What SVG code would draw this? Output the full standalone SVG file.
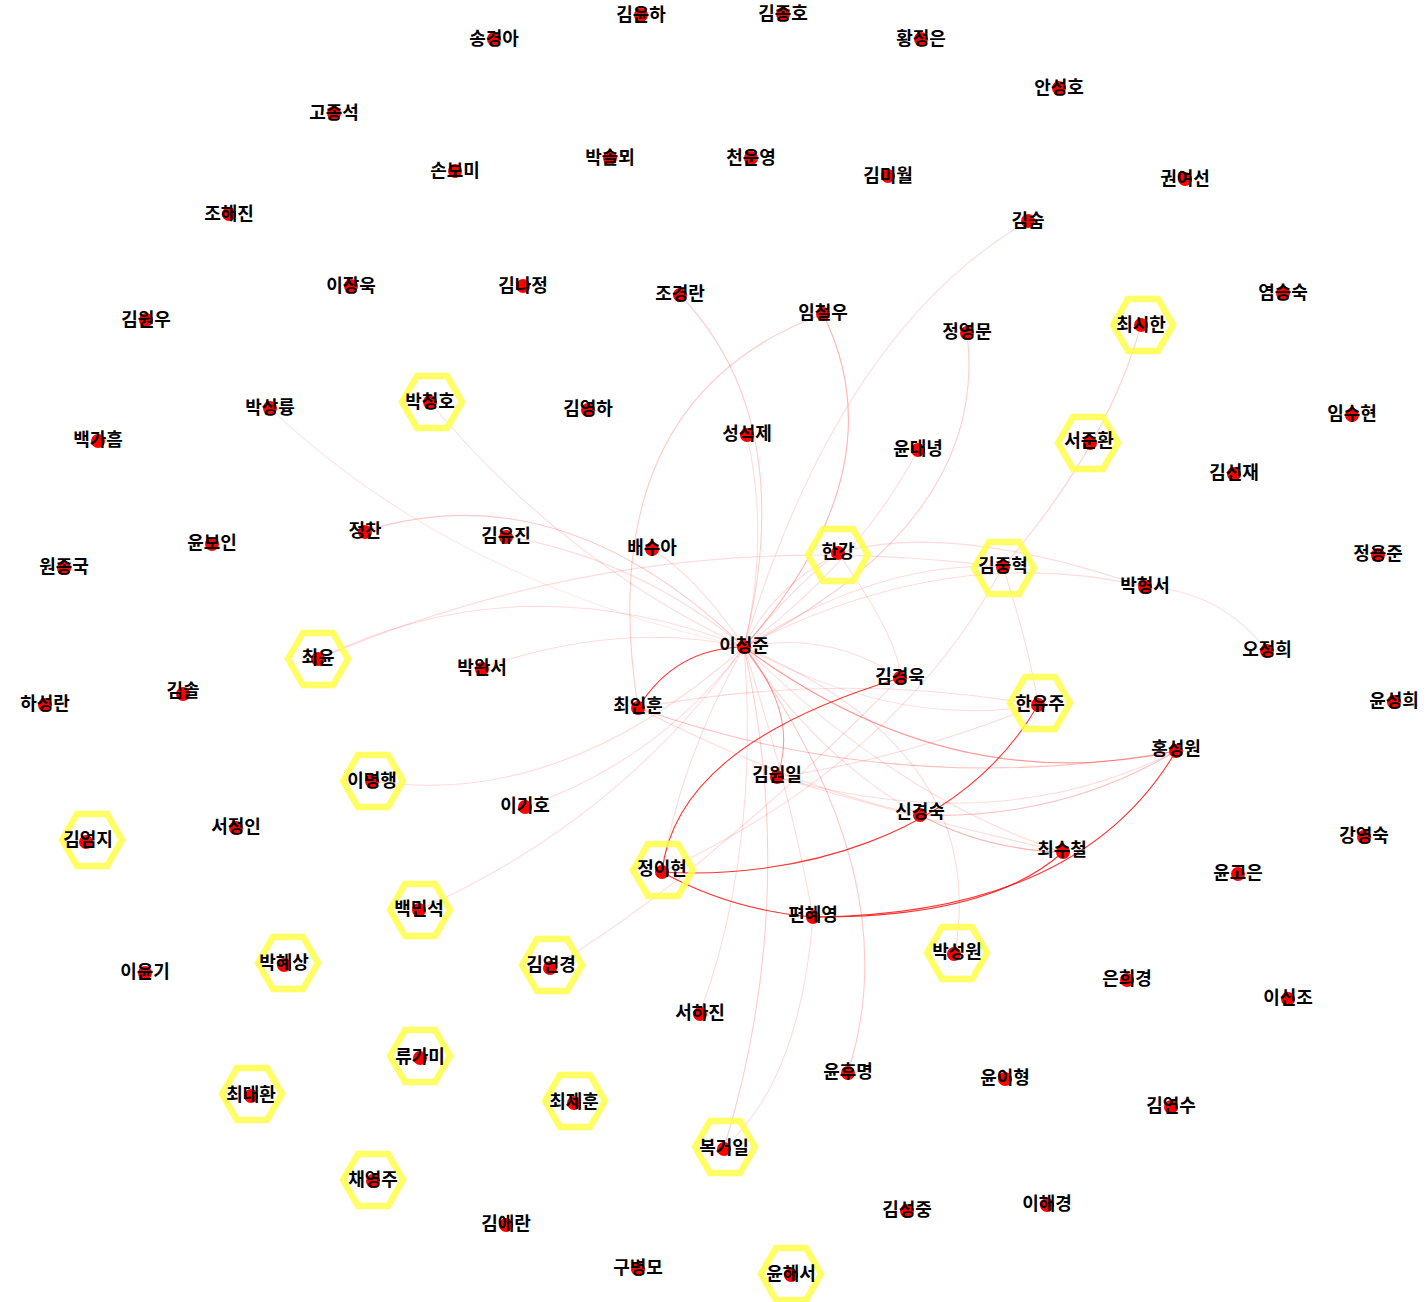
<svg xmlns="http://www.w3.org/2000/svg" xmlns:xlink="http://www.w3.org/1999/xlink" width="1427" height="1302" viewBox="0 0 1427 1302">
<style>
.e{fill:none;stroke:#ff0000;stroke-width:1.1}
.s{stroke-opacity:.8}
.m{stroke-opacity:.4}
.f{stroke-opacity:.14}
.hx{fill:none;stroke:#ffff4a;stroke-width:6.5;stroke-opacity:.85}
.d{fill:#ff0000}
text{font-family:"Noto Sans CJK KR","Noto Sans",sans-serif;font-weight:bold;font-size:18px;fill:#000;text-anchor:middle}
</style>
<defs>
<path id="hex" d="M-30,0 L-15,-26 L15,-26 L30,0 L15,26 L-15,26 Z"/>
</defs>
<rect width="1427" height="1302" fill="#fff"/>
<g id="edges">
<path class="e f" d="M744,647 Q820,760 920,815"/>
<path class="e f" d="M744,647 Q900,800 1063,852"/>
<path class="e f" d="M744,647 Q900,730 1038,705"/>
<path class="e f" d="M744,647 Q830,630 900,678"/>
<path class="e f" d="M744,647 Q680,760 662,872"/>
<path class="e f" d="M744,647 Q790,790 813,917"/>
<path class="e f" d="M744,647 Q990,750 955,953"/>
<path class="e f" d="M744,647 Q880,560 1003,567"/>
<path class="e f" d="M744,647 Q950,540 1145,587"/>
<path class="e f" d="M744,647 Q800,580 838,553"/>
<path class="e f" d="M744,647 Q770,590 838,553"/>
<path class="e f" d="M638,708 Q840,670 1038,705"/>
<path class="e f" d="M638,708 Q800,790 920,815"/>
<path class="e m" d="M638,708 Q590,400 823,314" style="stroke-opacity:.2"/>
<path class="e m" d="M680,295 Q800,420 744,647" style="stroke-opacity:.2"/>
<path class="e f" d="M1028,221 Q840,330 744,647"/>
<path class="e m" d="M967,333 Q990,520 744,647" style="stroke-opacity:.2"/>
<path class="e m" d="M1141,325 Q1108,445 1003,567" style="stroke-opacity:.18"/>
<path class="e f" d="M1003,567 Q1030,650 1038,705"/>
<path class="e f" d="M1003,567 Q900,760 662,872"/>
<path class="e f" d="M1145,587 Q1220,590 1267,651"/>
<path class="e f" d="M430,402 Q560,560 744,647"/>
<path class="e f" d="M270,408 Q450,580 744,647" style="stroke-opacity:.1"/>
<path class="e m" d="M365,531 Q560,470 744,647" style="stroke-opacity:.22"/>
<path class="e f" d="M318,659 Q520,560 744,647"/>
<path class="e f" d="M318,659 Q640,520 1003,567"/>
<path class="e f" d="M372,781 Q560,810 744,647"/>
<path class="e f" d="M419,910 Q620,820 744,647"/>
<path class="e f" d="M550,968 Q700,880 900,678"/>
<path class="e f" d="M700,1013 Q760,850 744,647"/>
<path class="e m" d="M724,1148 Q800,900 744,647" style="stroke-opacity:.2"/>
<path class="e f" d="M724,1148 Q800,1080 813,917"/>
<path class="e m" d="M848,1072 Q910,880 744,647" style="stroke-opacity:.22"/>
<path class="e f" d="M506,536 Q640,560 744,647"/>
<path class="e f" d="M652,549 Q700,580 744,647"/>
<path class="e f" d="M747,435 Q770,540 744,647"/>
<path class="e f" d="M918,450 Q860,560 744,647"/>
<path class="e f" d="M482,668 Q620,620 744,647"/>
<path class="e f" d="M525,807 Q660,760 744,647"/>
<path class="e f" d="M777,777 Q920,820 1063,852"/>
<path class="e f" d="M777,777 Q1000,840 1176,751"/>
<path class="e f" d="M838,553 Q900,640 900,678"/>
<path class="e f" d="M838,553 Q950,520 1145,587"/>
<path class="e f" d="M777,777 Q900,760 1038,705"/>
<path class="e m" d="M823,314 Q900,470 744,647" style="stroke-opacity:.3"/>
<path class="e m" d="M920,815 Q985,850 1063,852" style="stroke-opacity:.3"/>
<path class="e m" d="M920,815 Q1060,820 1176,751" style="stroke-opacity:.25"/>
<path class="e m" d="M638,708 Q900,800 1176,751" style="stroke-opacity:.25"/>
<path class="e m" d="M744,647 Q800,715 777,777"/>
<path class="e m" d="M744,647 Q950,800 1176,751"/>
<path class="e s" d="M744,647 Q675,648 638,708"/>
<path class="e s" d="M900,678 Q676,745 662,872"/>
<path class="e s" d="M662,872 C790,880 960,840 1038,705"/>
<path class="e s" d="M662,872 Q730,910 813,917"/>
<path class="e s" d="M813,917 Q990,918 1063,852"/>
<path class="e s" d="M813,917 Q1080,915 1176,751"/>
</g>
<g id="hexes">
<use href="#hex" class="hx" x="1143" y="325"/>
<use href="#hex" class="hx" x="432" y="402"/>
<use href="#hex" class="hx" x="1088" y="443"/>
<use href="#hex" class="hx" x="838" y="555"/>
<use href="#hex" class="hx" x="1004" y="568"/>
<use href="#hex" class="hx" x="318" y="659"/>
<use href="#hex" class="hx" x="1040" y="703"/>
<use href="#hex" class="hx" x="373" y="781"/>
<use href="#hex" class="hx" x="92" y="840"/>
<use href="#hex" class="hx" x="663" y="870"/>
<use href="#hex" class="hx" x="420" y="910"/>
<use href="#hex" class="hx" x="957" y="953"/>
<use href="#hex" class="hx" x="288" y="963"/>
<use href="#hex" class="hx" x="552" y="965"/>
<use href="#hex" class="hx" x="420" y="1056"/>
<use href="#hex" class="hx" x="252" y="1094"/>
<use href="#hex" class="hx" x="575" y="1101"/>
<use href="#hex" class="hx" x="725" y="1147"/>
<use href="#hex" class="hx" x="373" y="1180"/>
<use href="#hex" class="hx" x="791" y="1274"/>
</g>
<g id="nodes">
<g id="n1"><circle class="d" cx="641" cy="15" r="7"/><text x="641" y="21">김윤하</text></g>
<g id="n2"><circle class="d" cx="783" cy="14" r="7"/><text x="783" y="20">김종호</text></g>
<g id="n3"><circle class="d" cx="494" cy="39" r="7"/><text x="494" y="45">송경아</text></g>
<g id="n4"><circle class="d" cx="921" cy="39" r="7"/><text x="921" y="45">황정은</text></g>
<g id="n5"><circle class="d" cx="1059" cy="88" r="7"/><text x="1059" y="94">안성호</text></g>
<g id="n6"><circle class="d" cx="334" cy="113" r="7"/><text x="334" y="119">고종석</text></g>
<g id="n7"><circle class="d" cx="610" cy="158" r="7"/><text x="610" y="164">박솔뫼</text></g>
<g id="n8"><circle class="d" cx="751" cy="158" r="7"/><text x="751" y="164">천운영</text></g>
<g id="n9"><circle class="d" cx="455" cy="171" r="7"/><text x="455" y="177">손보미</text></g>
<g id="n10"><circle class="d" cx="888" cy="176" r="7"/><text x="888" y="182">김미월</text></g>
<g id="n11"><circle class="d" cx="1185" cy="179" r="7"/><text x="1185" y="185">권여선</text></g>
<g id="n12"><circle class="d" cx="229" cy="214" r="7"/><text x="229" y="220">조해진</text></g>
<g id="n13"><circle class="d" cx="1028" cy="221" r="7"/><text x="1028" y="227">김숨</text></g>
<g id="n14"><circle class="d" cx="351" cy="286" r="7"/><text x="351" y="292">이장욱</text></g>
<g id="n15"><circle class="d" cx="523" cy="286" r="7"/><text x="523" y="292">김나정</text></g>
<g id="n16"><circle class="d" cx="680" cy="295" r="7"/><text x="680" y="300">조경란</text></g>
<g id="n17"><circle class="d" cx="1283" cy="293" r="7"/><text x="1283" y="299">염승숙</text></g>
<g id="n18"><circle class="d" cx="823" cy="314" r="7"/><text x="823" y="319">임철우</text></g>
<g id="n19"><circle class="d" cx="146" cy="320" r="7"/><text x="146" y="326">김원우</text></g>
<g id="n20"><circle class="d" cx="1141" cy="325" r="7"/><text x="1141" y="331">최시한</text></g>
<g id="n21"><circle class="d" cx="967" cy="333" r="7"/><text x="967" y="338">정영문</text></g>
<g id="n22"><circle class="d" cx="270" cy="408" r="7"/><text x="270" y="414">박상륭</text></g>
<g id="n23"><circle class="d" cx="430" cy="402" r="7"/><text x="430" y="408">박청호</text></g>
<g id="n24"><circle class="d" cx="588" cy="410" r="7"/><text x="588" y="415">김영하</text></g>
<g id="n25"><circle class="d" cx="1352" cy="415" r="7"/><text x="1352" y="420">임수현</text></g>
<g id="n26"><circle class="d" cx="747" cy="435" r="7"/><text x="747" y="440">성석제</text></g>
<g id="n27"><circle class="d" cx="98" cy="441" r="7"/><text x="98" y="446">백가흠</text></g>
<g id="n28"><circle class="d" cx="1090" cy="443" r="7"/><text x="1089" y="447">서준환</text></g>
<g id="n29"><circle class="d" cx="918" cy="450" r="7"/><text x="918" y="455">윤대녕</text></g>
<g id="n30"><circle class="d" cx="1234" cy="474" r="7"/><text x="1234" y="479">김선재</text></g>
<g id="n31"><circle class="d" cx="365" cy="532" r="7"/><text x="365" y="537">정찬</text></g>
<g id="n32"><circle class="d" cx="506" cy="537" r="7"/><text x="506" y="542">김유진</text></g>
<g id="n33"><circle class="d" cx="212" cy="544" r="7"/><text x="212" y="549">윤보인</text></g>
<g id="n34"><circle class="d" cx="652" cy="549" r="7"/><text x="652" y="554">배수아</text></g>
<g id="n35"><circle class="d" cx="838" cy="553" r="7"/><text x="838" y="558">한강</text></g>
<g id="n36"><circle class="d" cx="1378" cy="555" r="7"/><text x="1378" y="560">정용준</text></g>
<g id="n37"><circle class="d" cx="1003" cy="567" r="7"/><text x="1003" y="572">김중혁</text></g>
<g id="n38"><circle class="d" cx="64" cy="568" r="7"/><text x="64" y="573">원종국</text></g>
<g id="n39"><circle class="d" cx="1145" cy="587" r="7"/><text x="1145" y="592">박형서</text></g>
<g id="n40"><circle class="d" cx="744" cy="647" r="7"/><text x="744" y="652">이청준</text></g>
<g id="n41"><circle class="d" cx="1267" cy="651" r="7"/><text x="1267" y="656">오정희</text></g>
<g id="n42"><circle class="d" cx="318" cy="659" r="7"/><text x="318" y="664">최윤</text></g>
<g id="n43"><circle class="d" cx="482" cy="669" r="7"/><text x="482" y="674">박완서</text></g>
<g id="n44"><circle class="d" cx="900" cy="678" r="7"/><text x="900" y="683">김경욱</text></g>
<g id="n45"><circle class="d" cx="183" cy="694" r="7"/><text x="183" y="697">김솔</text></g>
<g id="n46"><circle class="d" cx="1394" cy="702" r="7"/><text x="1394" y="707">윤성희</text></g>
<g id="n47"><circle class="d" cx="45" cy="705" r="7"/><text x="45" y="710">하성란</text></g>
<g id="n48"><circle class="d" cx="1038" cy="705" r="7"/><text x="1040" y="710">한유주</text></g>
<g id="n49"><circle class="d" cx="638" cy="708" r="7"/><text x="638" y="712">최인훈</text></g>
<g id="n50"><circle class="d" cx="1176" cy="751" r="7"/><text x="1176" y="755">홍성원</text></g>
<g id="n51"><circle class="d" cx="777" cy="777" r="7"/><text x="777" y="781">김원일</text></g>
<g id="n52"><circle class="d" cx="372" cy="781" r="7"/><text x="372" y="787">이명행</text></g>
<g id="n53"><circle class="d" cx="525" cy="807" r="7"/><text x="525" y="812">이기호</text></g>
<g id="n54"><circle class="d" cx="920" cy="815" r="7"/><text x="920" y="818">신경숙</text></g>
<g id="n55"><circle class="d" cx="236" cy="828" r="7"/><text x="236" y="833">서정인</text></g>
<g id="n56"><circle class="d" cx="86" cy="842" r="7"/><text x="88" y="846">김엄지</text></g>
<g id="n57"><circle class="d" cx="1364" cy="837" r="7"/><text x="1364" y="842">강영숙</text></g>
<g id="n58"><circle class="d" cx="1063" cy="852" r="7"/><text x="1062" y="856">최수철</text></g>
<g id="n59"><circle class="d" cx="662" cy="872" r="7"/><text x="662" y="875">정이현</text></g>
<g id="n60"><circle class="d" cx="1238" cy="874" r="7"/><text x="1238" y="879">윤고은</text></g>
<g id="n61"><circle class="d" cx="419" cy="910" r="7"/><text x="419" y="915">백민석</text></g>
<g id="n62"><circle class="d" cx="813" cy="917" r="7"/><text x="813" y="921">편혜영</text></g>
<g id="n63"><circle class="d" cx="954" cy="954" r="7"/><text x="957" y="958">박성원</text></g>
<g id="n64"><circle class="d" cx="284" cy="965" r="7"/><text x="284" y="969">박혜상</text></g>
<g id="n65"><circle class="d" cx="550" cy="968" r="7"/><text x="551" y="971">김연경</text></g>
<g id="n66"><circle class="d" cx="145" cy="973" r="7"/><text x="145" y="978">이윤기</text></g>
<g id="n67"><circle class="d" cx="1127" cy="980" r="7"/><text x="1127" y="985">은희경</text></g>
<g id="n68"><circle class="d" cx="1288" cy="999" r="7"/><text x="1288" y="1004">이신조</text></g>
<g id="n69"><circle class="d" cx="700" cy="1014" r="7"/><text x="700" y="1019">서하진</text></g>
<g id="n70"><circle class="d" cx="420" cy="1058" r="7"/><text x="420" y="1063">류가미</text></g>
<g id="n71"><circle class="d" cx="848" cy="1073" r="7"/><text x="848" y="1078">윤후명</text></g>
<g id="n72"><circle class="d" cx="1005" cy="1079" r="7"/><text x="1005" y="1084">윤이형</text></g>
<g id="n73"><circle class="d" cx="251" cy="1096" r="7"/><text x="251" y="1101">최대환</text></g>
<g id="n74"><circle class="d" cx="574" cy="1103" r="7"/><text x="574" y="1108">최제훈</text></g>
<g id="n75"><circle class="d" cx="1171" cy="1107" r="7"/><text x="1171" y="1112">김연수</text></g>
<g id="n76"><circle class="d" cx="724" cy="1149" r="7"/><text x="724" y="1154">복거일</text></g>
<g id="n77"><circle class="d" cx="373" cy="1181" r="7"/><text x="373" y="1186">채영주</text></g>
<g id="n78"><circle class="d" cx="1047" cy="1205" r="7"/><text x="1047" y="1210">이해경</text></g>
<g id="n79"><circle class="d" cx="907" cy="1211" r="7"/><text x="907" y="1216">김성중</text></g>
<g id="n80"><circle class="d" cx="506" cy="1225" r="7"/><text x="506" y="1230">김애란</text></g>
<g id="n81"><circle class="d" cx="638" cy="1269" r="7"/><text x="638" y="1274">구병모</text></g>
<g id="n82"><circle class="d" cx="791" cy="1275" r="7"/><text x="791" y="1280">윤해서</text></g>
</g>
</svg>
